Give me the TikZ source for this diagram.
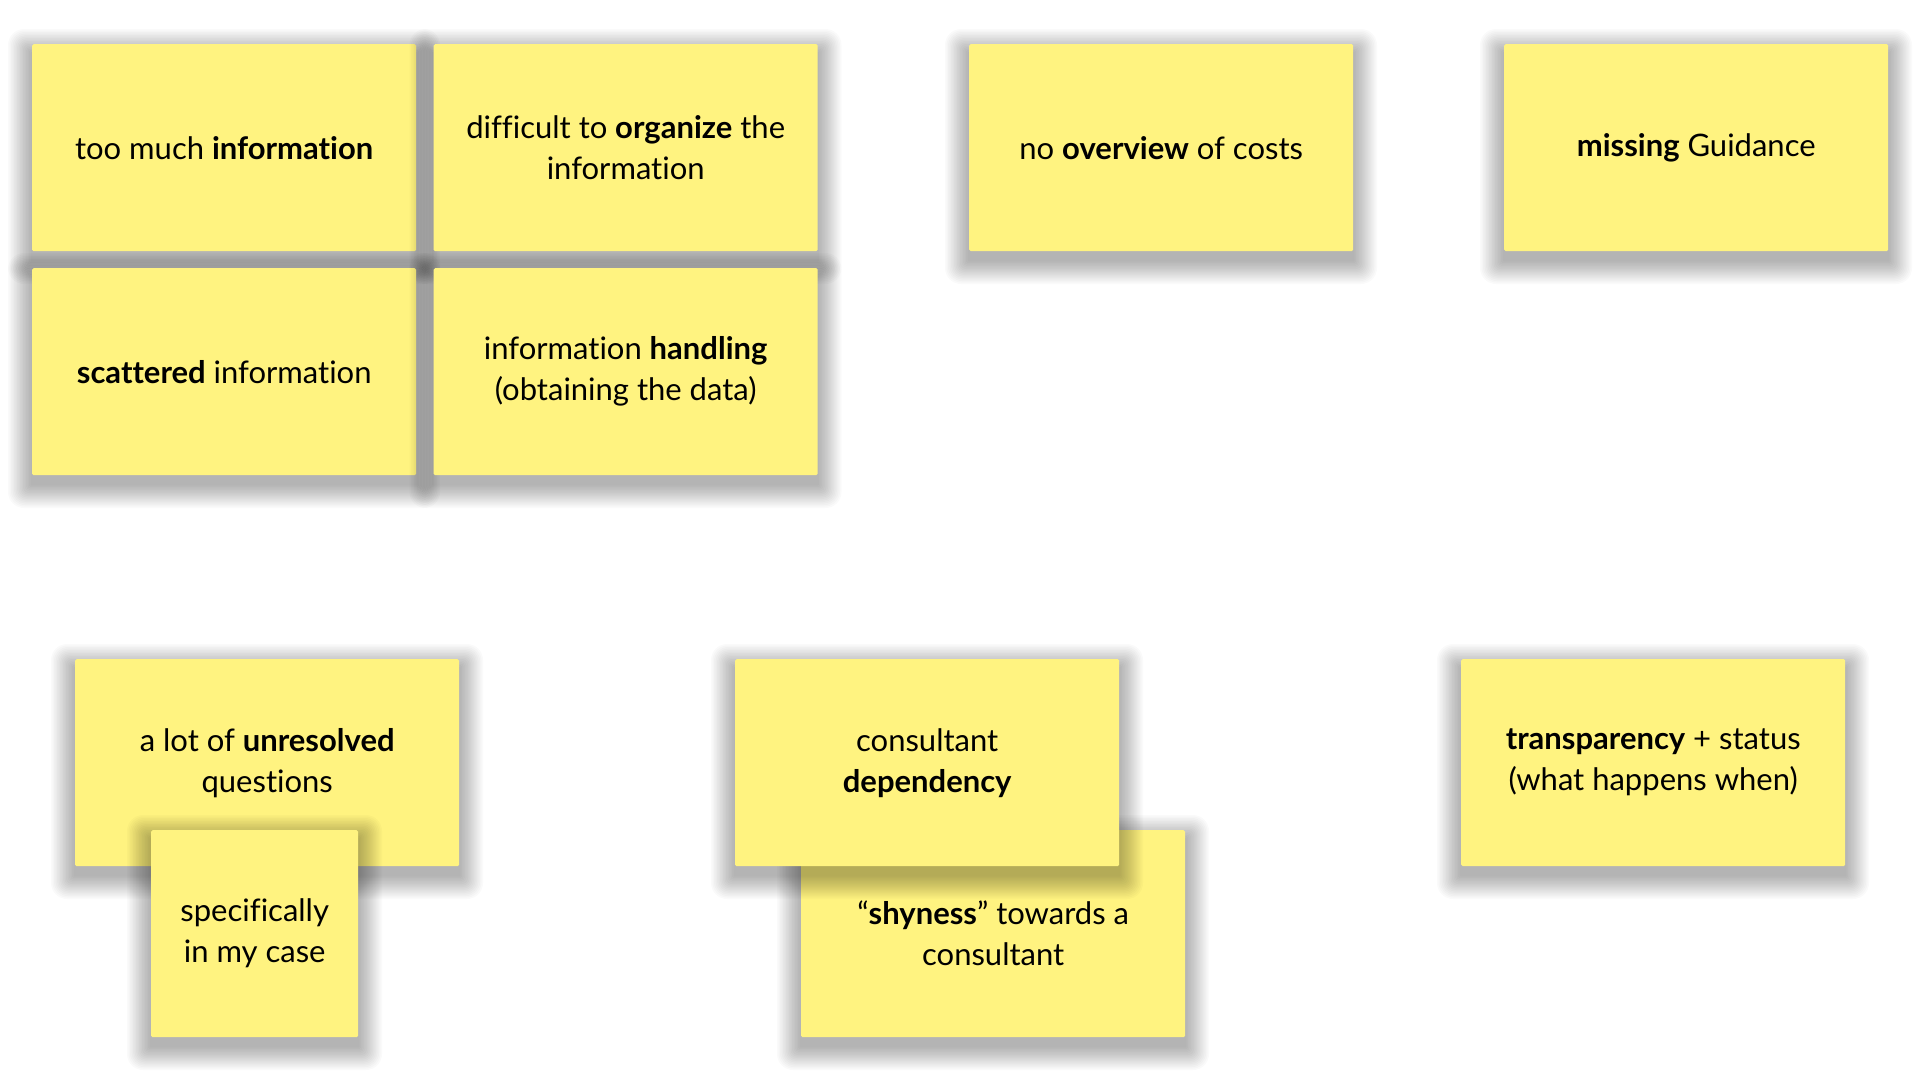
\documentclass[tikz,border=0pt]{standalone}
\usepackage{fontspec}
\setmainfont[Ligatures=NoCommon]{Lato}
\definecolor{notey}{RGB}{255,243,128}
\newcommand\stickynote[5]{% name, x, y, width, text
  \foreach \r in {1,...,16}{%
    \fill[black, opacity=0.02, rounded corners=\r pt]
      (#2-\r*1.5, #3+9-\r*1.5) rectangle (#2+#4+\r*1.5, #3+207+9+\r*1.5);
  }%
  \node[note, minimum width=#4 pt] (#1) at (#2,#3) {#5};
}
\begin{document}
\begin{tikzpicture}[x=1pt,y=-1pt,
  note/.style={rectangle, fill=notey, rounded corners=1.5pt,
    minimum height=207pt, anchor=north west,
    align=center, inner sep=0pt, text=black,
    font=\fontsize{31}{41}\selectfont}]
\fill[white] (0,0) rectangle (1920,1080);
\useasboundingbox (0,0) rectangle (1920,1080);
% top cluster
\stickynote{n1}{32}{44}{384}{too much \textbf{information}}
\stickynote{n2}{433.5}{44}{384}{difficult to \textbf{organize} the\\information}
\stickynote{n3}{32}{268}{384}{\textbf{scattered} information}
\stickynote{n4}{433.5}{268}{384}{information \textbf{handling}\\(obtaining the data)}
\stickynote{n5}{969}{44}{384}{no \textbf{overview} of costs}
\stickynote{n6}{1504}{44}{384}{\textbf{missing} Guidance}
% bottom
\stickynote{n7}{75}{659}{384}{a lot of \textbf{unresolved}\\questions}
\stickynote{n8}{151}{830}{207}{specifically\\in my case}
\stickynote{n10}{801}{830}{384}{“\textbf{shyness}” towards a\\consultant}
\stickynote{n9}{735}{659}{384}{consultant\\\textbf{dependency}}
\stickynote{n11}{1461}{659}{384}{\textbf{transparency} + status\\(what happens when)}
\end{tikzpicture}
\end{document}
